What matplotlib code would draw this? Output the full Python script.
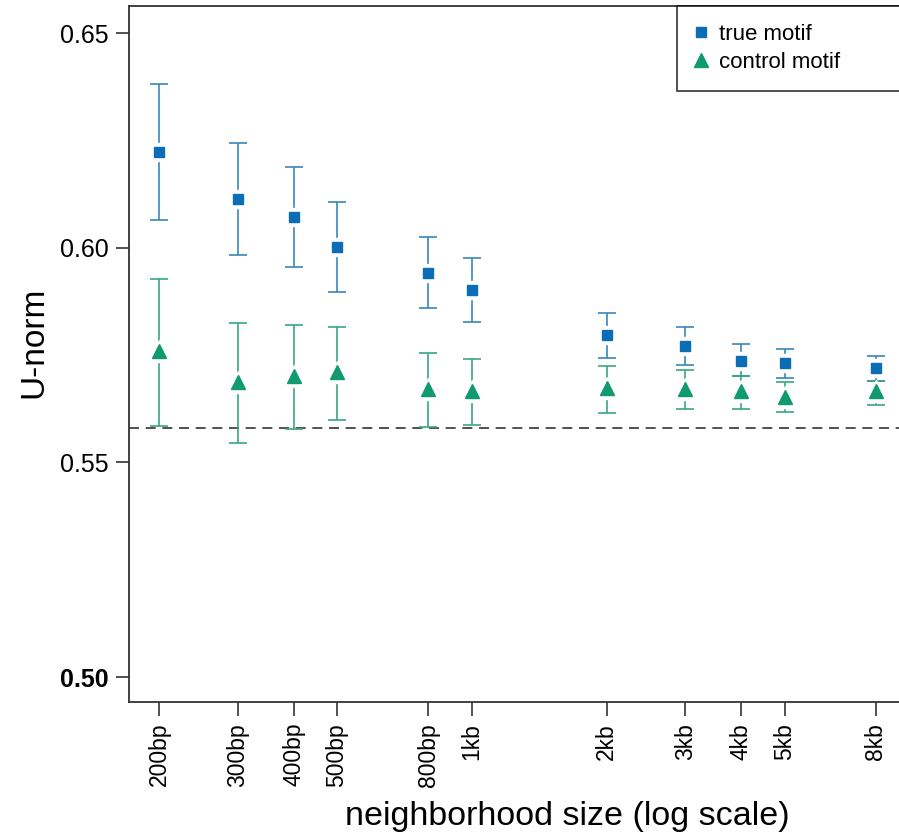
import numpy as np
import matplotlib
matplotlib.use('Agg')
import matplotlib.pyplot as plt
from matplotlib.lines import Line2D

plt.rcParams['font.family'] = ['Liberation Sans', 'DejaVu Sans']

# neighborhood sizes (bp) and tick labels
sizes = [200, 300, 400, 500, 800, 1000, 2000, 3000, 4000, 5000, 8000]
size_labels = ['200bp', '300bp', '400bp', '500bp', '800bp', '1kb',
               '2kb', '3kb', '4kb', '5kb', '8kb']

# true motif: mean, lower, upper
true_mean = [0.6222, 0.6113, 0.6071, 0.6002, 0.5940, 0.5902,
             0.5796, 0.5771, 0.5736, 0.5731, 0.5719]
true_low = [0.6065, 0.5982, 0.5956, 0.5898, 0.5860, 0.5826,
            0.5743, 0.5726, 0.5701, 0.5696, 0.5690]
true_high = [0.6382, 0.6245, 0.6187, 0.6107, 0.6024, 0.5975,
             0.5849, 0.5816, 0.5775, 0.5765, 0.5747]

# control motif: mean, lower, upper
ctrl_mean = [0.5759, 0.5687, 0.5702, 0.5711, 0.5671, 0.5666,
             0.5673, 0.5671, 0.5666, 0.5652, 0.5666]
ctrl_low = [0.5585, 0.5545, 0.5578, 0.5599, 0.5582, 0.5587,
            0.5616, 0.5625, 0.5624, 0.5617, 0.5634]
ctrl_high = [0.5927, 0.5824, 0.5821, 0.5816, 0.5754, 0.5740,
             0.5725, 0.5715, 0.5701, 0.5687, 0.5690]

baseline = 0.558

blue = '#0b6db5'
blue_bar = '#3a87bb'
green = '#0f9a70'
green_bar = '#3aa585'
dark = '#333333'


def draw_series(ax, mean, low, high, marker, ms, color, bar_color):
    mean = np.asarray(mean)
    err = [mean - np.asarray(low), np.asarray(high) - mean]
    ax.errorbar(sizes, mean, yerr=err, fmt='none', ecolor=bar_color,
                elinewidth=1.2, capsize=6.5, capthick=1.2, zorder=2)
    # white halo around the marker, like the original
    ax.plot(sizes, mean, marker, ms=ms + 6, color='white', ls='none', zorder=3)
    ax.plot(sizes, mean, marker, ms=ms, color=color, ls='none', zorder=4)


def main():
    fig = plt.figure(figsize=(8.99, 8.32), dpi=100)
    ax = fig.add_axes([129 / 899, 130 / 832, 1 - 129 / 899, 696 / 832])

    ax.axhline(baseline, color=dark, lw=1.2, ls=(0, (6, 4)), zorder=1)

    draw_series(ax, true_mean, true_low, true_high, 's', 7.5, blue, blue_bar)
    draw_series(ax, ctrl_mean, ctrl_low, ctrl_high, '^', 9.5, green, green_bar)

    ax.set_xscale('log')
    ax.set_xlim(171.4, 9007)
    ax.set_ylim(0.4942, 0.6563)

    ax.set_xticks(sizes)
    ax.set_xticklabels(size_labels, rotation=90, fontsize=16.5)
    ax.xaxis.set_minor_locator(matplotlib.ticker.NullLocator())
    ax.set_yticks([0.50, 0.55, 0.60, 0.65])
    ax.set_yticklabels(['0.50', '0.55', '0.60', '0.65'], fontsize=18)
    ax.get_yticklabels()[0].set_fontweight('bold')

    ax.tick_params(axis='x', length=10, width=1.2, color=dark, pad=5)
    ax.tick_params(axis='y', length=9.5, width=1.2, color=dark, pad=5)

    for side in ['left', 'bottom', 'top']:
        ax.spines[side].set_color(dark)
        ax.spines[side].set_linewidth(1.3)
    ax.spines['right'].set_visible(False)

    ax.set_xlabel('neighborhood size (log scale)', fontsize=24.5)
    ax.xaxis.set_label_coords(0.569, -0.142)
    ax.set_ylabel('U-norm', fontsize=24)
    ax.yaxis.set_label_coords(-0.103, 0.517)

    handles = [Line2D([], [], marker='s', ms=7.5, color=blue, ls='none'),
               Line2D([], [], marker='^', ms=9.5, color=green, ls='none')]
    leg = fig.legend(handles, ['true motif', 'control motif'],
                     loc='upper left',
                     bbox_to_anchor=(677 / 899, 1 - 87 / 832, 0.3, 81 / 832),
                     mode='expand',
                     fontsize=16, frameon=True, fancybox=False,
                     borderaxespad=0, borderpad=0.8, handletextpad=0.5,
                     handlelength=0.6, labelspacing=0.32)
    leg.get_frame().set_edgecolor('black')
    leg.get_frame().set_linewidth(1.2)

    fig.savefig('out.png', dpi=100)


if __name__ == '__main__':
    main()
